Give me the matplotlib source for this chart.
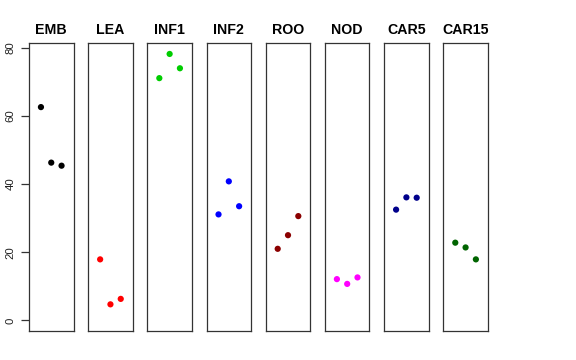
# Strip chart of samples per tissue, one panel per tissue
import numpy as np
import matplotlib.pyplot as plt

plt.rcParams['font.family'] = ['Liberation Sans', 'DejaVu Sans']

# data
tissues = ['EMB', 'LEA', 'INF1', 'INF2', 'ROO', 'NOD', 'CAR5', 'CAR15']
values = [
    [62.6, 46.3, 45.4],
    [17.9, 4.7, 6.3],
    [71.1, 78.2, 74.0],
    [31.1, 40.8, 33.5],
    [21.0, 25.0, 30.6],
    [12.1, 10.7, 12.6],
    [32.5, 36.1, 36.0],
    [22.8, 21.4, 17.9],
]
colors = ['black', 'red', '#00CD00', 'blue', '#8B0000', 'magenta', '#00008B', '#006400']
yticks = [0, 20, 40, 60, 80]

fig = plt.figure(figsize=(5.76, 3.6), dpi=100)

W, H = 576, 360
ymax = max(max(v) for v in values)
ext = 0.04 * ymax

for i, (name, vals, col) in enumerate(zip(tissues, values, colors)):
    left = 29 + i * 59.19
    ax = fig.add_axes([left / W, 29 / H, 44.5 / W, 287.7 / H])
    x = np.arange(1, len(vals) + 1)
    ax.scatter(x, vals, s=20, color=col, edgecolors='none', zorder=3)
    ax.set_xlim(-0.16, 4.16)
    ax.set_ylim(0 - ext, ymax + ext)
    ax.set_xticks([])
    ax.set_title(name, fontsize=10.2, fontweight='bold', pad=7)
    for sp in ax.spines.values():
        sp.set_linewidth(0.9)
        sp.set_color('#333333')
    if i == 0:
        ax.set_yticks(yticks)
        ax.set_yticklabels([str(t) for t in yticks], rotation=90, va='center', fontsize=8.2)
        ax.tick_params(axis='y', length=5.8, width=0.9, pad=4, colors='#333333', labelcolor='#222222')
    else:
        ax.set_yticks([])

fig.savefig('out.png', dpi=100)
